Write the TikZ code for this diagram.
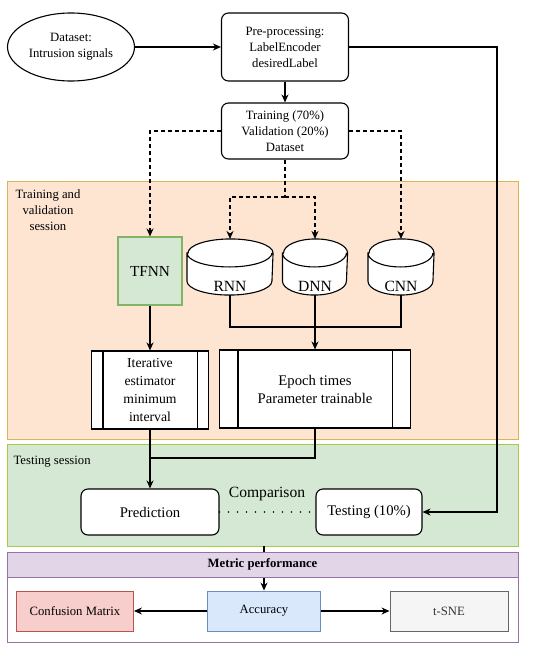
\documentclass[tikz,border=0pt]{standalone}
\usepackage{fontspec}
\setmainfont{Liberation Serif}
\usepackage{xcolor}
\usetikzlibrary{arrows.meta,positioning,calc,shapes.geometric}
\definecolor{orfill}{HTML}{FDE5D1}
\definecolor{ordraw}{HTML}{D6B656}
\definecolor{grfill}{HTML}{D5E8D4}
\definecolor{grdraw}{HTML}{82B366}
\definecolor{pufill}{HTML}{E1D5E7}
\definecolor{pudraw}{HTML}{9673A6}
\definecolor{refill}{HTML}{F8CECC}
\definecolor{redraw}{HTML}{B85450}
\definecolor{blfill}{HTML}{DAE8FC}
\definecolor{bldraw}{HTML}{6C8EBF}
\definecolor{gyfill}{HTML}{F5F5F5}
\definecolor{gydraw}{HTML}{666666}
% cylinder outline round a named node: #1 node, #2 half width
\newcommand{\dbcyl}[2]{%
  \draw[fill=white] ([yshift=-14pt]#1.north west) -- ([yshift=14pt]#1.south west)
    arc[start angle=180,end angle=360,x radius=#2pt,y radius=14pt]
    -- ([yshift=-14pt]#1.north east)
    arc[start angle=0,end angle=180,x radius=#2pt,y radius=14pt] -- cycle
    ([yshift=-14pt]#1.north west) arc[start angle=180,end angle=360,x radius=#2pt,y radius=14pt];}

\begin{document}
\begin{tikzpicture}[x=1pt,y=-1pt,>={Stealth[length=8pt,width=7pt]},line width=1.1pt,
  every node/.style={font=\fontsize{12.7}{16}\selectfont,align=center,inner sep=0pt},
  rbox/.style={draw,rounded corners=7pt,fill=white,minimum width=127pt},
  proc/.style={draw,fill=white,minimum height=78pt},
  db/.style={minimum height=55pt},
  dbtext/.style={font=\fontsize{15.6}{18}\selectfont,yshift=-19pt},
  big/.style={font=\fontsize{14.7}{18}\selectfont},
  zone/.style={line width=0.9pt},
  leaf/.style={draw,line width=0.9pt,minimum height=40pt},
  dsh/.style={dash pattern=on 4pt off 3pt}]
\useasboundingbox (0,0) rectangle (550,648);
\fill[white] (0,0) rectangle (550,648);
% sessions
\draw[zone,draw=ordraw,fill=orfill] (7,181) rectangle (518,439);
\draw[zone,draw=grdraw!70!yellow,fill=grfill] (7,444) rectangle (518,546);
\draw[zone,draw=pudraw,fill=white] (7,552) rectangle (518,642);
\node[anchor=north] (lbltv) at (48,189) {Training and\\validation\\session};
\node[anchor=west] (lblts) at (13,462) {Testing session};

% data preparation
\node[ellipse,draw,minimum width=127pt,minimum height=68pt] (data) at (71,47) {Dataset:\\Intrusion signals};
\node[rbox,minimum height=68pt] (prep) at (285,47) {Pre-processing:\\LabelEncoder\\desiredLabel};
\node[rbox,minimum height=56pt] (split) at (285,131) {Training (70\%)\\Validation (20\%)\\Dataset};

% models
\node[draw=grdraw,fill=grfill,minimum width=64pt,minimum height=68pt,font=\fontsize{15.3}{18}\selectfont] (tfnn) at (150,271) {TFNN};
\node[db,minimum width=85pt] (rnn) at (230,267) {};
\node[db,minimum width=64pt] (dnn) at (315,267) {};
\node[db,minimum width=65pt] (cnn) at (401,267) {};
\dbcyl{rnn}{42.5}
\dbcyl{dnn}{32}
\dbcyl{cnn}{32.5}
\node[dbtext] (rnnt) at (rnn.center) {RNN};
\node[dbtext] (dnnt) at (dnn.center) {DNN};
\node[dbtext] (cnnt) at (cnn.center) {CNN};

\node[proc,minimum width=117pt,font=\fontsize{13.7}{18}\selectfont] (iter) at (150,390) {Iterative\\estimator\\minimum\\interval};
\draw ([xshift=12pt]iter.north west) -- ([xshift=12pt]iter.south west);
\draw ([xshift=-12pt]iter.north east) -- ([xshift=-12pt]iter.south east);
\node[proc,minimum width=191pt,big] (epoch) at (315,389) {Epoch times\\Parameter trainable};
\draw ([xshift=19pt]epoch.north west) -- ([xshift=19pt]epoch.south west);
\draw ([xshift=-19pt]epoch.north east) -- ([xshift=-19pt]epoch.south east);

% testing
\node[rbox,minimum width=138pt,minimum height=46pt,big] (pred) at (150,512) {Prediction};
\node[rbox,minimum width=106pt,minimum height=46pt,big] (test) at (369,512) {Testing (10\%)};
\node[font=\fontsize{15.6}{18}\selectfont] (cmp) at (267,494) {Comparison};

% metrics
\coordinate (gz) at (264,546);
\node[leaf,draw=bldraw,fill=blfill,minimum width=113pt] (acc) at (264,611) {Accuracy};
\draw[->] (gz) -- (acc);
\node[draw=pudraw,fill=pufill,line width=0.9pt,minimum width=511pt,minimum height=25pt] (metric) at (262.5,564.5) {\bfseries Metric performance};
\node[leaf,draw=redraw,fill=refill,minimum width=117pt] (conf) at (75,611) {Confusion Matrix};
\node[leaf,draw=gydraw,fill=gyfill,minimum width=118pt,text=black!80] (tsne) at (449,611) {t-SNE};

% connectors
\coordinate (rt) at (497,47);
\coordinate (fork) at (285,197);
\coordinate (jn) at (315,327);
\coordinate (mg) at (150,458);
\draw[->] (data) -- (prep);
\draw[->] (prep) -- (split);
\draw[->] (prep.east) -- (rt) |- (test.east);
\draw[->,dsh] (split.west) -| (tfnn.north);
\draw[->,dsh] (split.east) -| (cnn.north);
\draw[dsh] (split.south) -- (fork);
\draw[->,dsh] (fork) -| (rnn.north);
\draw[->,dsh] (fork) -| (dnn.north);
\draw (rnn.south) |- (jn) -| (cnn.south);
\draw (dnn.south) -- (jn);
\draw[->] (jn) -- (epoch.north);
\draw[->] (tfnn) -- (iter);
\draw[->] (iter.south) -- (pred.north);
\draw (epoch.south) |- (mg);
\draw[line cap=round,dash pattern=on 0pt off 9pt,line width=1.8pt] (pred) -- (test);
\draw[->] (acc) -- (conf);
\draw[->] (acc) -- (tsne);
\end{tikzpicture}
\end{document}
